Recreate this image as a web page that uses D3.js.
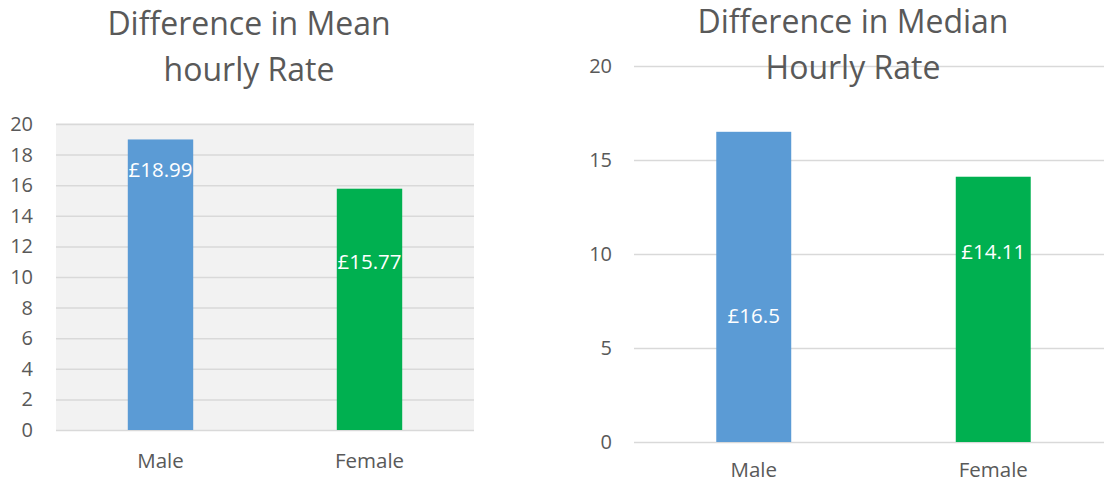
<!DOCTYPE html>
<html><head><meta charset="utf-8">
<script src="https://cdn.jsdelivr.net/npm/d3@7"></script>
<style>body{margin:0;background:#fff}svg{display:block}text{font-family:"Open Sans",sans-serif;fill:#595959}</style>
</head><body><svg id="c" width="1104" height="484"></svg>
<script>
const categories = ["Male", "Female"];
const meanValues = [18.99, 15.77];
const medianValues = [16.5, 14.11];
const meanLabels = ["£18.99", "£15.77"];
const medianLabels = ["£16.5", "£14.11"];
const meanLabelAt = [17.0, 11.0];
const medianLabelAt = [6.7, 10.1];
const meanTicks = [0, 2, 4, 6, 8, 10, 12, 14, 16, 18, 20];
const medianTicks = [0, 5, 10, 15, 20];
const colors = ["#5b9bd5", "#00b050"];
const meanTitle = ["Difference in Mean", "hourly Rate"];
const medianTitle = ["Difference in Median", "Hourly Rate"];

const svg = d3.select("#c");

function chart(cfg) {
  const g = svg.append("g");
  const x = d3.scaleBand().domain(categories).range([cfg.x0, cfg.x1]).paddingInner(0.687).paddingOuter(0.3435);
  const y = d3.scaleLinear().domain([0, 20]).range([cfg.yb, cfg.yt]);
  if (cfg.bg) g.append("rect").attr("x", cfg.x0).attr("y", cfg.yt - 1).attr("width", cfg.x1 - cfg.x0).attr("height", cfg.yb - cfg.yt + 1).attr("fill", cfg.bg);
  const ya = d3.axisLeft(y).tickValues(cfg.ticks).tickSize(-(cfg.x1 - cfg.x0)).tickPadding(0).tickFormat(d3.format("d"));
  const ag = g.append("g").attr("transform", `translate(${cfg.x0},0)`).call(ya);
  ag.select(".domain").remove();
  ag.selectAll(".tick line").attr("stroke", "#d9d9d9").attr("stroke-width", 1.5);
  ag.selectAll(".tick text").attr("x", cfg.tickX - cfg.x0).attr("font-size", 20).attr("fill", "#595959").style("font-family", '"Open Sans",sans-serif');
  const xa = d3.axisBottom(x).tickSize(0).tickPadding(0);
  const xg = g.append("g").attr("transform", `translate(0,${cfg.catY})`).call(xa);
  xg.select(".domain").remove();
  xg.selectAll(".tick text").attr("dy", 0).attr("font-size", 20.5).attr("fill", "#595959").style("font-family", '"Open Sans",sans-serif');
  g.selectAll("rect.bar").data(cfg.values).join("rect").attr("class", "bar")
    .attr("x", (d, i) => x(categories[i])).attr("width", x.bandwidth())
    .attr("y", d => y(d)).attr("height", d => y(0) - y(d)).attr("fill", (d, i) => colors[i]);
  g.selectAll("text.lbl").data(cfg.labels).join("text").attr("class", "lbl")
    .attr("x", (d, i) => x(categories[i]) + x.bandwidth() / 2)
    .attr("y", (d, i) => y(cfg.labelAt[i])).attr("dy", "0.35em")
    .attr("text-anchor", "middle").attr("font-size", 20.5).style("fill", "#ffffff").text(d => d);
  g.selectAll("text.ttl").data(cfg.title).join("text").attr("class", "ttl")
    .attr("x", cfg.titleX).attr("y", (d, i) => cfg.titleY + i * 46)
    .attr("text-anchor", "middle").attr("font-size", 32).text(d => d);
}

chart({x0: 56, x1: 474, yb: 430, yt: 124, ticks: meanTicks, values: meanValues, labels: meanLabels, labelAt: meanLabelAt,
  tickX: 33, catY: 468, bg: "#f2f2f2", title: meanTitle, titleX: 249, titleY: 35});
chart({x0: 634, x1: 1113, yb: 442, yt: 66, ticks: medianTicks, values: medianValues, labels: medianLabels, labelAt: medianLabelAt,
  tickX: 612, catY: 477, bg: null, title: medianTitle, titleX: 853, titleY: 33});
</script></body></html>
